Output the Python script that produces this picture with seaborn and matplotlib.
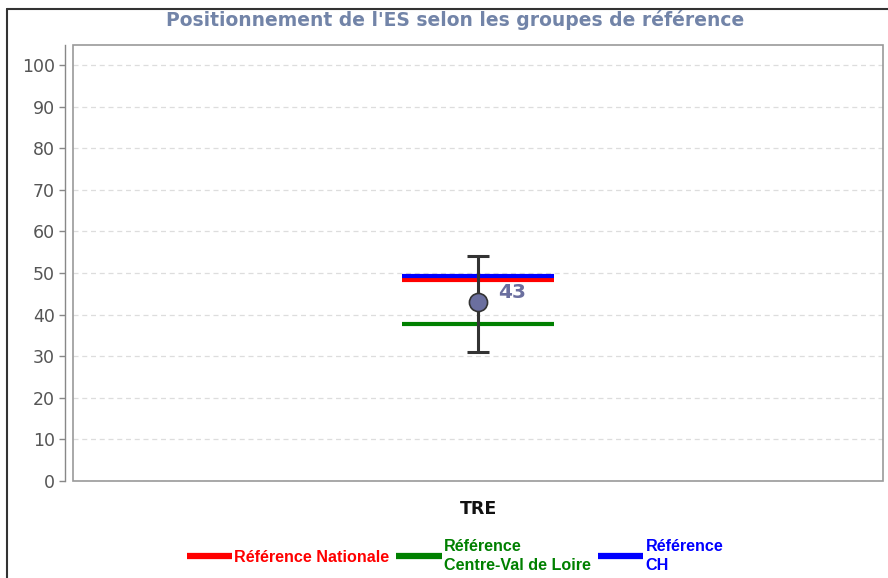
import numpy as np
import pandas as pd
import seaborn as sns
import matplotlib.pyplot as plt
from matplotlib.lines import Line2D
from matplotlib.patches import Rectangle

# data
categories = ['TRE']
score = [43]
ci_low = [31]
ci_high = [54]
ref_labels = ['Référence Nationale', 'Référence\nCentre-Val de Loire', 'Référence\nCH']
ref_values = [48.3, 37.8, 49.2]
ref_colors = ['#ff0000', '#008000', '#0000ff']
yticks = list(range(0, 101, 10))

sns.set_theme(style='white')
plt.rcParams['font.family'] = ['DejaVu Sans']

fig = plt.figure(figsize=(8.88, 5.78), dpi=100)
ax = fig.add_axes([73 / 888, 1 - 481 / 578, (883 - 73) / 888, (481 - 45) / 578])

df = pd.DataFrame({'cat': [0], 'score': score})

# reference lines
for val, col in zip(ref_values, ref_colors):
    ax.hlines(val, -0.094, 0.094, color=col, lw=3, zorder=3)
# error bar + point
ax.errorbar(0, score[0], yerr=[[score[0] - ci_low[0]], [ci_high[0] - score[0]]],
            fmt='none', ecolor='#333333', elinewidth=2.2, capsize=8, capthick=2.2, zorder=4)
sns.scatterplot(data=df, x='cat', y='score', s=170, color='#6b6f9f', edgecolor='#333333',
                linewidth=1.2, zorder=5, ax=ax, legend=False)
ax.text(0.025, score[0] + 2.3, str(score[0]), color='#6b6f9f', fontsize=14.5, fontweight='semibold',
        va='center', ha='left', zorder=6)

ax.set_xlim(-0.5, 0.5)
ax.set_ylim(0, 104.8)
ax.set_yticks(yticks)
ax.set_xticks([0])
ax.set_xticklabels(categories, fontsize=12.5, fontweight='bold', color='#111111')
ax.tick_params(axis='x', length=0, pad=14)
ax.tick_params(axis='y', left=True, length=4, width=1, color='#888888', labelsize=12.5,
               labelcolor='#555555', pad=3)
ax.set_xlabel('')
ax.set_ylabel('')
ax.yaxis.grid(True, linestyle=(0, (4, 3)), color='#dddddd', lw=0.9)
ax.set_axisbelow(True)

for side in ['top', 'right', 'bottom']:
    ax.spines[side].set_visible(False)
ax.spines['left'].set_position(('outward', 6))
ax.spines['left'].set_color('#888888')
ax.spines['left'].set_linewidth(1)
ax.add_patch(Rectangle((0, 0), 1, 1, transform=ax.transAxes, fill=False,
                       edgecolor='#999999', lw=1.2, clip_on=False, zorder=1))

# outer frame
fig.add_artist(Line2D([7 / 888, 7 / 888], [0, 1 - 9 / 578], transform=fig.transFigure,
                      color='#333333', lw=1.5))
fig.add_artist(Line2D([7 / 888, 1], [1 - 9 / 578, 1 - 9 / 578], transform=fig.transFigure,
                      color='#333333', lw=1.5))

fig.text(455 / 888, 1 - 20 / 578, "Positionnement de l'ES selon les groupes de référence",
         ha='center', va='center', fontsize=13.5, fontweight='bold', color='#7284a8')

handles = [Line2D([0], [0], color=c, lw=4.5, solid_capstyle='butt') for c in ref_colors]
leg = fig.legend(handles, ref_labels, loc='center', bbox_to_anchor=(455 / 888, 1 - 556 / 578),
                 ncol=3, frameon=False, handlelength=2.8, handletextpad=0.15, columnspacing=0.45,
                 prop={'family': 'Liberation Sans', 'weight': 'bold', 'size': 11.6})
for t, c in zip(leg.get_texts(), ref_colors):
    t.set_color(c)
    t.set_linespacing(1.3)

fig.savefig('out.png', dpi=100)
